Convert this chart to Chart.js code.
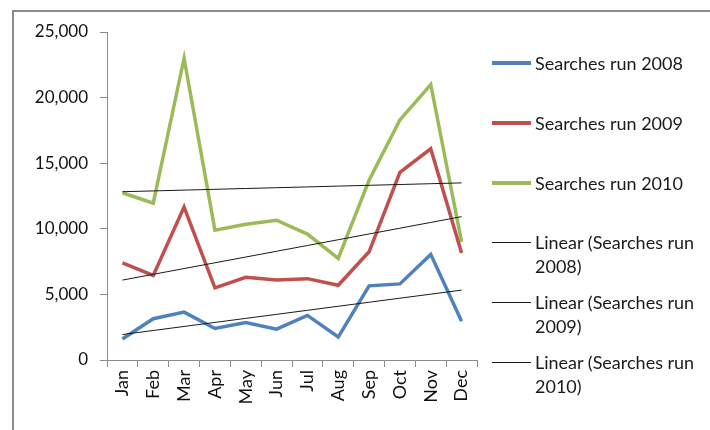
<!DOCTYPE html>
<html>
<head>
<meta charset="utf-8">
<script src="https://cdn.jsdelivr.net/npm/chart.js@4.4.1/dist/chart.umd.min.js"></script>
<style>
    html, body { margin: 0; padding: 0; background: #fff; }
    #wrap { position: relative; width: 710px; height: 430px; overflow: hidden; }
    #frame {
        position: absolute; left: 12px; top: 10px; width: 720px; height: 440px;
        border-left: 2px solid #8c8c8c; border-top: 2px solid #8c8c8c;
    }
    canvas { position: absolute; left: 0; top: 0; }
    #legend { position: absolute; left: 0; top: 0; font-family: Lato, sans-serif; font-size: 18px; color: #1a1a1a; }
    .item { position: absolute; left: 492px; }
    .swatch { position: absolute; left: 0; width: 39px; }
    .label { position: absolute; left: 43px; line-height: 24px; white-space: nowrap; }
</style>
</head>
<body>
<div id="wrap">
    <div id="frame"></div>
    <canvas id="chart" width="710" height="430"></canvas>
    <div id="legend"></div>
</div>
<script>
const months = ['Jan', 'Feb', 'Mar', 'Apr', 'May', 'Jun', 'Jul', 'Aug', 'Sep', 'Oct', 'Nov', 'Dec'];
const searches2008 = [1600, 3150, 3650, 2400, 2850, 2350, 3400, 1750, 5650, 5800, 8050, 2950];
const searches2009 = [7400, 6450, 11650, 5500, 6300, 6100, 6200, 5700, 8250, 14300, 16100, 8150];
const searches2010 = [12750, 11950, 23000, 9900, 10350, 10650, 9600, 7750, 13700, 18300, 21000, 9000];
const yTicks = [0, 5000, 10000, 15000, 20000, 25000];

const seriesNames = ['Searches run 2008', 'Searches run 2009', 'Searches run 2010'];
const seriesColors = ['#4f81bd', '#c0504d', '#9bbb59'];
const seriesData = [searches2008, searches2009, searches2010];

// least squares fit over month index
function linearTrend(values) {
    const n = values.length;
    let sx = 0, sy = 0, sxy = 0, sxx = 0;
    values.forEach((v, i) => {
        const x = i + 1;
        sx += x; sy += v; sxy += x * v; sxx += x * x;
    });
    const slope = (n * sxy - sx * sy) / (n * sxx - sx * sx);
    const intercept = (sy - slope * sx) / n;
    return values.map((v, i) => intercept + slope * (i + 1));
}

const datasets = [];
seriesData.forEach((data, i) => {
    datasets.push({
        label: seriesNames[i],
        data: data,
        borderColor: seriesColors[i],
        backgroundColor: seriesColors[i],
        borderWidth: 3.5,
        pointRadius: 0,
        tension: 0,
        order: 2
    });
});
seriesData.forEach((data, i) => {
    datasets.push({
        label: 'Linear (' + seriesNames[i] + ')',
        data: linearTrend(data),
        borderColor: '#1a1a1a',
        borderWidth: 1,
        pointRadius: 0,
        tension: 0,
        order: 1
    });
});

const axisColor = '#8a8a8a';
const tickFont = { family: 'Lato, sans-serif', size: 17 };

new Chart(document.getElementById('chart'), {
    type: 'line',
    data: { labels: months, datasets: datasets },
    options: {
        responsive: false,
        animation: false,
        layout: { padding: { left: 0, top: 32, right: 233, bottom: 0 } },
        plugins: { legend: { display: false }, tooltip: { enabled: false } },
        scales: {
            x: {
                offset: true,
                afterFit: (scale) => { scale.height = 70; },
                grid: { offset: true, drawOnChartArea: false, tickLength: 7, color: axisColor },
                border: { color: axisColor, width: 1 },
                ticks: { color: '#111', font: { family: 'Lato, sans-serif', size: 18 }, minRotation: 90, maxRotation: 90, padding: 3, autoSkip: false }
            },
            y: {
                min: 0,
                max: 25000,
                afterFit: (scale) => { scale.width = 107; },
                afterBuildTicks: (scale) => { scale.ticks = yTicks.map(v => ({ value: v })); },
                grid: { drawOnChartArea: false, tickLength: 7, color: axisColor },
                border: { color: axisColor, width: 1 },
                ticks: { color: '#111', font: tickFont, padding: 12, callback: (v) => v.toLocaleString('en-US') }
            }
        }
    }
});

// legend on the right, Excel style
const legendEl = document.getElementById('legend');
const legendRows = [
    { text: [seriesNames[0]], color: seriesColors[0], thick: 3.5 },
    { text: [seriesNames[1]], color: seriesColors[1], thick: 3.5 },
    { text: [seriesNames[2]], color: seriesColors[2], thick: 3.5 },
    { text: ['Linear (Searches run', '2008)'], color: '#1a1a1a', thick: 1 },
    { text: ['Linear (Searches run', '2009)'], color: '#1a1a1a', thick: 1 },
    { text: ['Linear (Searches run', '2010)'], color: '#1a1a1a', thick: 1 }
];
const rowY = [63, 123, 183, 242, 302, 362];
legendRows.forEach((row, i) => {
    const item = document.createElement('div');
    item.className = 'item';
    item.style.top = rowY[i] + 'px';
    const sw = document.createElement('div');
    sw.className = 'swatch';
    sw.style.height = row.thick + 'px';
    sw.style.top = (-row.thick / 2) + 'px';
    sw.style.background = row.color;
    const lab = document.createElement('div');
    lab.className = 'label';
    lab.style.top = '-12px';
    lab.innerHTML = row.text.join('<br>');
    item.appendChild(sw);
    item.appendChild(lab);
    legendEl.appendChild(item);
});
</script>
</body>
</html>
